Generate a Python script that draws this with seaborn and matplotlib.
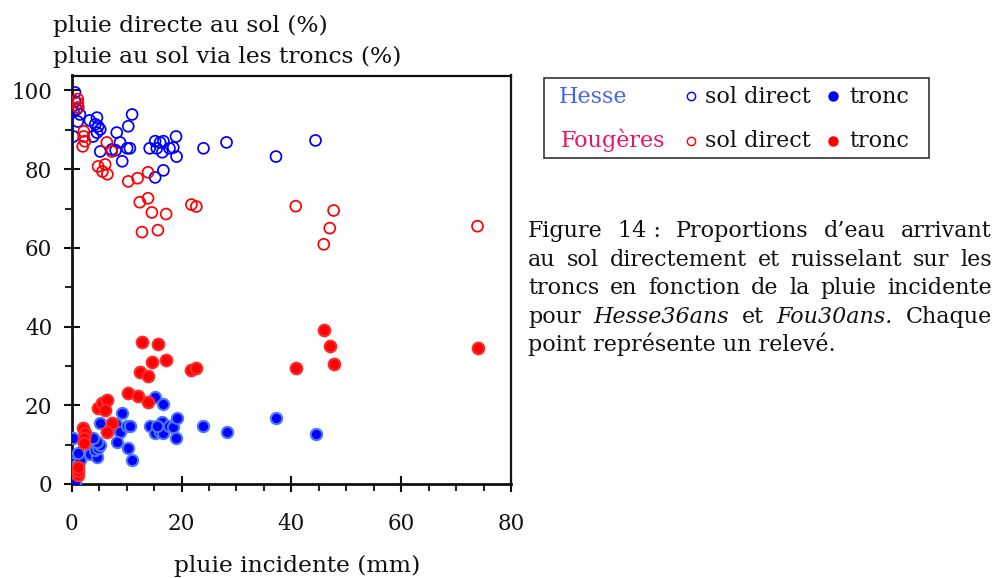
import numpy as np
import pandas as pd
import seaborn as sns
import matplotlib.pyplot as plt
from matplotlib.lines import Line2D
from matplotlib.patches import Rectangle
from matplotlib.ticker import MultipleLocator

# Hesse36ans : pluie incidente (mm), pluie directe au sol (%), pluie via les troncs (%)
hesse_pluie = [0.6, 0.6, 0.3, 0.9, 1.5, 1.1, 0.3, 3.3, 4.6, 4.3, 4.8, 5.2, 4.6, 3.9,
               5.2, 7.3, 8.0, 8.8, 8.2, 9.2, 10.1, 10.6, 10.3, 11.0, 14.2, 15.2, 16.7,
               15.2, 16.1, 16.5, 16.7, 15.5, 17.8, 18.5, 19.1, 19.0, 24.0, 28.2, 37.2, 44.4]
hesse_sol = [99.5, 97.2, 94.7, 95.2, 93.9, 92.1, 88.3, 92.4, 93.1, 91.4, 90.9, 90.1, 89.3, 88.3,
             84.5, 85.0, 84.8, 86.8, 89.3, 82.0, 85.3, 85.3, 90.9, 93.9, 85.3, 77.9, 79.7,
             87.1, 86.8, 84.3, 87.1, 85.3, 85.3, 85.5, 83.2, 88.3, 85.3, 86.8, 83.2, 87.3]
hesse_tronc = [0.5, 2.8, 5.3, 4.8, 6.1, 7.9, 11.7, 7.6, 6.9, 8.6, 9.1, 9.9, 10.7, 11.7,
               15.5, 15.0, 15.2, 13.2, 10.7, 18.0, 14.7, 14.7, 9.1, 6.1, 14.7, 22.1, 20.3,
               12.9, 13.2, 15.7, 12.9, 14.7, 14.7, 14.5, 16.8, 11.7, 14.7, 13.2, 16.8, 12.7]

# Fou30ans
fou_pluie = [1.1, 1.1, 1.2, 2.0, 2.4, 2.2, 2.2, 4.8, 5.6, 6.5, 6.1, 7.3, 6.4, 10.3, 12.0,
             13.9, 12.4, 13.9, 14.6, 17.2, 21.8, 22.7, 12.8, 15.7, 40.8, 45.9, 47.0, 47.7, 73.9]
fou_sol = [97.8, 96.8, 95.7, 85.8, 87.1, 88.3, 89.6, 80.7, 79.4, 78.7, 81.2, 84.5, 86.8, 76.9,
           77.7, 79.2, 71.6, 72.6, 69.0, 68.6, 71.0, 70.5, 64.0, 64.5, 70.6, 60.9, 65.0, 69.5, 65.5]
fou_tronc = [2.2, 3.2, 4.3, 14.2, 12.9, 11.7, 10.4, 19.3, 20.6, 21.3, 18.8, 15.5, 13.2, 23.1,
             22.3, 20.8, 28.4, 27.4, 31.0, 31.4, 29.0, 29.5, 36.0, 35.5, 29.4, 39.1, 35.0, 30.5, 34.5]

x_ticks = [0, 20, 40, 60, 80]
y_ticks = [0, 20, 40, 60, 80, 100]

caption = [
    [("Figure", False), ("14 :", False), ("Proportions", False), ("d’eau", False), ("arrivant", False)],
    [("au", False), ("sol", False), ("directement", False), ("et", False), ("ruisselant", False),
     ("sur", False), ("les", False)],
    [("troncs", False), ("en", False), ("fonction", False), ("de", False), ("la", False),
     ("pluie", False), ("incidente", False)],
    [("pour", False), ("Hesse36ans", True), ("et", False), ("Fou30ans.", True), ("Chaque", False)],
]
caption_last = "point représente un relevé."

hesse = pd.DataFrame({'pluie': hesse_pluie, 'sol': hesse_sol, 'tronc': hesse_tronc})
fou = pd.DataFrame({'pluie': fou_pluie, 'sol': fou_sol, 'tronc': fou_tronc})

sns.set_style("ticks")
plt.rcParams['font.family'] = ['DejaVu Serif']
plt.rcParams['text.color'] = '#111111'

W, H = 999, 578
fig = plt.figure(figsize=(W / 100, H / 100), dpi=100)
ax = fig.add_axes([71.7 / W, 1 - 484 / H, (511 - 71.7) / W, (484 - 75.5) / H])

BLUE = '#0000ff'
RED = '#ff0000'
FS_TICK = 15.5
FS_TITLE = 16.8
FS_LEG = 16
FS_CAP = 16

# open = sol direct, filled = tronc
sns.scatterplot(data=hesse, x='pluie', y='sol', ax=ax, s=62, facecolor='none',
                edgecolor=BLUE, linewidth=1.25, zorder=3)
sns.scatterplot(data=hesse, x='pluie', y='tronc', ax=ax, s=66, color=BLUE,
                edgecolor='#4a78ff', linewidth=1.5, zorder=3)
sns.scatterplot(data=fou, x='pluie', y='sol', ax=ax, s=62, facecolor='none',
                edgecolor=RED, linewidth=1.25, zorder=4)
sns.scatterplot(data=fou, x='pluie', y='tronc', ax=ax, s=70, color=RED,
                edgecolor='#ff2a2a', linewidth=1.5, zorder=4)

ax.set_xlim(0, 80)
ax.set_ylim(0, 103.8)
ax.set_xticks(x_ticks)
ax.set_yticks(y_ticks)
ax.xaxis.set_minor_locator(MultipleLocator(5))
ax.yaxis.set_minor_locator(MultipleLocator(10))
ax.set_xlabel('')
ax.set_ylabel('')
ax.tick_params(which='major', direction='inout', length=11, width=1.5, labelsize=FS_TICK,
               colors='#111111')
ax.tick_params(which='minor', direction='out', length=5, width=1.5)
ax.tick_params(axis='x', which='major', pad=15.5)
ax.tick_params(axis='y', which='major', pad=8.5)
for side in ['left', 'bottom']:
    ax.spines[side].set_linewidth(2.0)
for side in ['top', 'right']:
    ax.spines[side].set_linewidth(1.6)
for sp in ax.spines.values():
    sp.set_color('#111111')


def fx(x):
    return x / W


def fy(y):
    return 1 - y / H


# axis titles
fig.text(fx(53), fy(32), "pluie directe au sol (%)", fontsize=FS_TITLE, va='baseline')
fig.text(fx(53), fy(63), "pluie au sol via les troncs (%)", fontsize=FS_TITLE, va='baseline')
fig.text(fx(297), fy(572), "pluie incidente (mm)", fontsize=FS_TITLE, va='baseline', ha='center')

# legend box
fig.patches.append(Rectangle((fx(544), fy(158)), (929 - 544) / W, (158 - 78) / H,
                             transform=fig.transFigure, fill=False, edgecolor='#333333',
                             linewidth=1.2))
rows = [("Hesse", '#4466ee', BLUE, 559, 103, 96),
        ("Fougères", '#ee1166', RED, 561, 147, 141)]
for name, tcol, mcol, tx, base, my in rows:
    fig.text(fx(tx), fy(base), name, fontsize=FS_LEG, color=tcol, va='baseline')
    fig.lines.append(Line2D([fx(691)], [fy(my)], transform=fig.transFigure, marker='o',
                            markersize=6, markerfacecolor='none', markeredgecolor=mcol,
                            markeredgewidth=1.0, linestyle='none'))
    fig.text(fx(705), fy(base), "sol direct", fontsize=FS_LEG, va='baseline')
    fig.lines.append(Line2D([fx(833)], [fy(my)], transform=fig.transFigure, marker='o',
                            markersize=6.5, markerfacecolor=mcol, markeredgecolor=mcol,
                            linestyle='none'))
    fig.text(fx(849), fy(base), "tronc", fontsize=FS_LEG, va='baseline')

# caption, justified
cap_left, cap_right = 528, 992
renderer = fig.canvas.get_renderer()
for i, words in enumerate(caption):
    yb = 237 + i * 28.6
    texts = [fig.text(0, fy(yb), w, fontsize=FS_CAP, style='italic' if it else 'normal',
                      va='baseline') for w, it in words]
    widths = [t.get_window_extent(renderer).width for t in texts]
    gap = (cap_right - cap_left - sum(widths)) / (len(words) - 1)
    x = cap_left
    for t, w in zip(texts, widths):
        t.set_x(fx(x))
        x += w + gap
fig.text(fx(cap_left), fy(237 + 4 * 28.6), caption_last, fontsize=FS_CAP, va='baseline')

fig.savefig('out.png', dpi=100)
